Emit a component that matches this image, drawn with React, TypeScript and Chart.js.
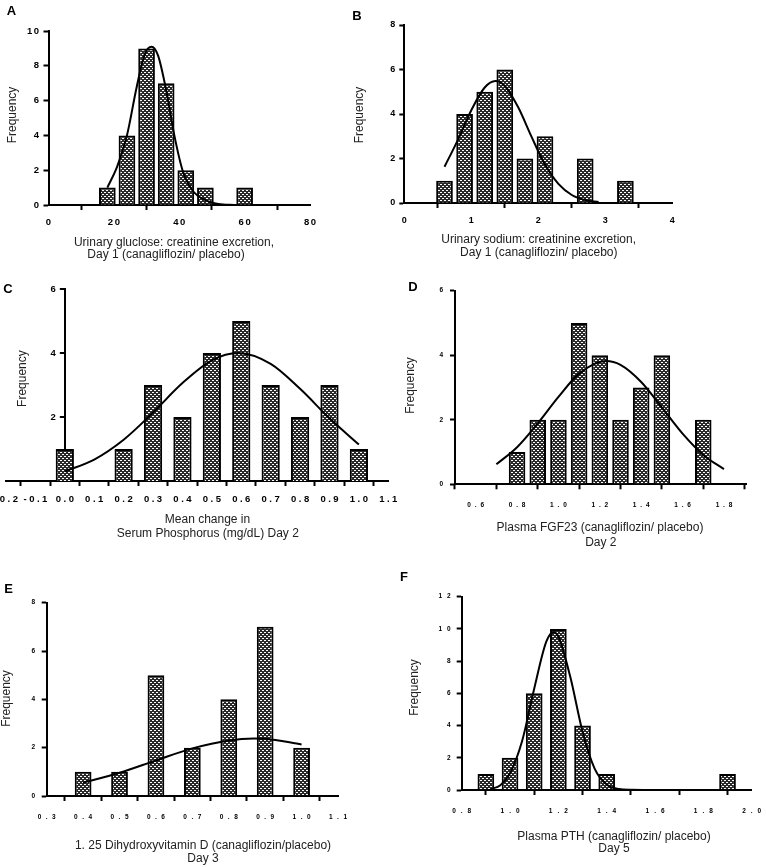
import React, { useEffect, useRef } from "react";
import { Chart, registerables } from "chart.js";
Chart.register(...registerables);

// ---------- Panel A ----------
const aBins = [18, 24, 30, 36, 42, 48, 60];
const aCounts = [1, 4, 9, 7, 2, 1, 1];
const aCurveX = [18, 21, 24, 27, 29.5, 31.5, 33.5, 36, 38.5, 41, 44, 48, 52, 57];
const aCurveY = [1.0, 2.2, 4.0, 6.8, 8.7, 9.1, 8.6, 6.6, 4.0, 2.0, 0.85, 0.28, 0.06, 0];
const aXTicks = [0, 20, 40, 60, 80];
const aXLabels = ["0", "20", "40", "60", "80"];
const aYTicks = [0, 2, 4, 6, 8, 10];
const aYLabels = ["0", "2", "4", "6", "8", "10"];

// ---------- Panel B ----------
const bBins = [0.6, 0.9, 1.2, 1.5, 1.8, 2.1, 2.7, 3.3];
const bCounts = [1, 4, 5, 6, 2, 3, 2, 1];
const bCurveX = [0.6, 0.8, 1.0, 1.2, 1.36, 1.5, 1.7, 1.9, 2.1, 2.3, 2.5, 2.7, 2.9];
const bCurveY = [1.63, 2.84, 4.17, 5.19, 5.48, 5.26, 4.3, 2.97, 1.73, 0.86, 0.36, 0.13, 0.04];
const bXTicks = [0, 1, 2, 3, 4];
const bXLabels = ["0", "1", "2", "3", "4"];
const bYTicks = [0, 2, 4, 6, 8];
const bYLabels = ["0", "2", "4", "6", "8"];

// ---------- Panel C ----------
const cBins = [0, 0.2, 0.3, 0.4, 0.5, 0.6, 0.7, 0.8, 0.9, 1.0];
const cCounts = [1, 1, 3, 2, 4, 5, 3, 2, 3, 1];
const cCurveX = [0, 0.1, 0.2, 0.3, 0.4, 0.5, 0.59, 0.7, 0.8, 0.9, 1.0];
const cCurveY = [0.3, 0.67, 1.29, 2.14, 3.06, 3.77, 4.0, 3.66, 2.88, 1.96, 1.14];
const cXTicks = [-0.2, -0.1, 0, 0.1, 0.2, 0.3, 0.4, 0.5, 0.6, 0.7, 0.8, 0.9, 1.0, 1.1];
const cXLabels = ["-0.2", "-0.1", "0.0", "0.1", "0.2", "0.3", "0.4", "0.5", "0.6", "0.7", "0.8", "0.9", "1.0", "1.1"];
const cYTicks = [2, 4, 6];
const cYLabels = ["2", "4", "6"];

// ---------- Panel D ----------
const dBins = [0.8, 0.9, 1.0, 1.1, 1.2, 1.3, 1.4, 1.5, 1.7];
const dCounts = [1, 2, 2, 5, 4, 2, 3, 4, 2];
const dCurveX = [0.7, 0.8, 0.9, 1.0, 1.1, 1.23, 1.3, 1.4, 1.5, 1.6, 1.7, 1.8];
const dCurveY = [0.62, 1.15, 1.89, 2.71, 3.43, 3.82, 3.7, 3.17, 2.38, 1.57, 0.91, 0.47];
const dXTicks = [0.6, 0.8, 1.0, 1.2, 1.4, 1.6, 1.8];
const dXLabels = ["0.6", "0.8", "1.0", "1.2", "1.4", "1.6", "1.8"];
const dYTicks = [0, 2, 4, 6];
const dYLabels = ["0", "2", "4", "6"];

// ---------- Panel E ----------
const eBins = [0.4, 0.5, 0.6, 0.7, 0.8, 0.9, 1.0];
const eCounts = [1, 1, 5, 2, 4, 7, 2];
const eCurveX = [0.4, 0.5, 0.6, 0.7, 0.8, 0.87, 0.9, 1.0];
const eCurveY = [0.55, 0.96, 1.47, 1.97, 2.3, 2.38, 2.37, 2.13];
const eXTicks = [0.3, 0.4, 0.5, 0.6, 0.7, 0.8, 0.9, 1.0, 1.1];
const eXLabels = ["0.3", "0.4", "0.5", "0.6", "0.7", "0.8", "0.9", "1.0", "1.1"];
const eYTicks = [0, 2, 4, 6, 8];
const eYLabels = ["0", "2", "4", "6", "8"];

// ---------- Panel F ----------
const fBins = [0.9, 1.0, 1.1, 1.2, 1.3, 1.4, 1.9];
const fCounts = [1, 2, 6, 10, 4, 1, 1];
const fCurveX = [0.92, 0.96, 1.0, 1.05, 1.1, 1.15, 1.18, 1.2, 1.25, 1.3, 1.35, 1.4, 1.45, 1.5, 1.6];
const fCurveY = [0.05, 0.3, 1.04, 3.04, 6.29, 9.21, 9.8, 9.53, 6.98, 3.62, 1.33, 0.34, 0.06, 0.01, 0];
const fXTicks = [0.8, 1.0, 1.2, 1.4, 1.6, 1.8, 2.0];
const fXLabels = ["0.8", "1.0", "1.2", "1.4", "1.6", "1.8", "2.0"];
const fYTicks = [0, 2, 4, 6, 8, 10, 12];
const fYLabels = ["0", "2", "4", "6", "8", "10", "12"];

const FONT = '"Liberation Sans", Arial, sans-serif';

type TextItem = { s: string; x: number; y: number; size: number; bold?: boolean; rot?: boolean };

interface PanelDef {
  rect: [number, number, number, number];
  area: { l: number; r: number; t: number; b: number };
  xMin: number;
  xMax: number;
  yMax: number;
  xTicks: number[];
  xLabels: string[];
  yTicks: number[];
  yLabels: string[];
  bins: number[];
  counts: number[];
  curveX: number[];
  curveY: number[];
  barFrac: number;
  tickSize: number;
  spacing: number;
  xPad: number;
  yPad: number;
  yAt?: number;
  texts: TextItem[];
}

const panels: PanelDef[] = [
  {
    rect: [0, 0, 360, 268],
    area: { l: 48.5, r: 310, t: 31, b: 205 },
    xMin: 0, xMax: 80, yMax: 10,
    xTicks: aXTicks, xLabels: aXLabels, yTicks: aYTicks, yLabels: aYLabels,
    bins: aBins, counts: aCounts, curveX: aCurveX, curveY: aCurveY,
    barFrac: 0.85, tickSize: 9.5, spacing: 1.5, xPad: 7, yPad: 3,
    texts: [
      { s: "A", x: 11.5, y: 11, size: 13, bold: true },
      { s: "Frequency", x: 13, y: 115, size: 12, rot: true },
      { s: "Urinary gluclose: creatinine excretion,", x: 174, y: 243, size: 12 },
      { s: "Day 1 (canagliflozin/ placebo)", x: 166, y: 255, size: 12 },
    ],
  },
  {
    rect: [340, 0, 426, 268],
    area: { l: 404.3, r: 672.3, t: 25, b: 203 },
    xMin: 0, xMax: 4, yMax: 8,
    xTicks: bXTicks, xLabels: bXLabels, yTicks: bYTicks, yLabels: bYLabels,
    bins: bBins, counts: bCounts, curveX: bCurveX, curveY: bCurveY,
    barFrac: 0.83, tickSize: 9, spacing: 1, xPad: 7, yPad: 3,
    texts: [
      { s: "B", x: 357, y: 16, size: 13, bold: true },
      { s: "Frequency", x: 360, y: 115, size: 12, rot: true },
      { s: "Urinary sodium: creatinine excretion,", x: 538.6, y: 240, size: 12 },
      { s: "Day 1 (canagliflozin/ placebo)", x: 538.8, y: 252.5, size: 12 },
    ],
  },
  {
    rect: [0, 268, 400, 292],
    area: { l: 6, r: 388.3, t: 289, b: 481 },
    xMin: -0.2, xMax: 1.1, yMax: 6, yAt: 0,
    xTicks: cXTicks, xLabels: cXLabels, yTicks: cYTicks, yLabels: cYLabels,
    bins: cBins, counts: cCounts, curveX: cCurveX, curveY: cCurveY,
    barFrac: 0.62, tickSize: 9.5, spacing: 2.5, xPad: 8, yPad: 4,
    texts: [
      { s: "C", x: 8, y: 289, size: 13, bold: true },
      { s: "Frequency", x: 23, y: 378.6, size: 12, rot: true },
      { s: "Mean change in", x: 207.5, y: 520, size: 12 },
      { s: "Serum Phosphorus (mg/dL) Day 2", x: 207.8, y: 534, size: 12 },
    ],
  },
  {
    rect: [395, 268, 371, 292],
    area: { l: 455, r: 746.7, t: 290.7, b: 484.3 },
    xMin: 0.5, xMax: 1.91, yMax: 6,
    xTicks: dXTicks, xLabels: dXLabels, yTicks: dYTicks, yLabels: dYLabels,
    bins: dBins, counts: dCounts, curveX: dCurveX, curveY: dCurveY,
    barFrac: 0.8, tickSize: 6.5, spacing: 3.8, xPad: 12, yPad: 3,
    texts: [
      { s: "D", x: 413, y: 287.5, size: 13, bold: true },
      { s: "Frequency", x: 411, y: 385.5, size: 12, rot: true },
      { s: "Plasma FGF23 (canagliflozin/ placebo)", x: 600, y: 527.5, size: 12 },
      { s: "Day 2", x: 600.8, y: 543, size: 12 },
    ],
  },
  {
    rect: [0, 560, 380, 307],
    area: { l: 46.7, r: 338, t: 602.7, b: 796 },
    xMin: 0.3, xMax: 1.1, yMax: 8,
    xTicks: eXTicks, xLabels: eXLabels, yTicks: eYTicks, yLabels: eYLabels,
    bins: eBins, counts: eCounts, curveX: eCurveX, curveY: eCurveY,
    barFrac: 0.46, tickSize: 6.5, spacing: 4.5, xPad: 12, yPad: 2,
    texts: [
      { s: "E", x: 8.5, y: 589, size: 13, bold: true },
      { s: "Frequency", x: 7, y: 698.5, size: 12, rot: true },
      { s: "1. 25 Dihydroxyvitamin D (canagliflozin/placebo)", x: 203, y: 846, size: 12 },
      { s: "Day 3", x: 203, y: 858.5, size: 12 },
    ],
  },
  {
    rect: [380, 560, 386, 307],
    area: { l: 461.7, r: 751.7, t: 596.7, b: 790 },
    xMin: 0.8, xMax: 2.0, yMax: 12,
    xTicks: fXTicks, xLabels: fXLabels, yTicks: fYTicks, yLabels: fYLabels,
    bins: fBins, counts: fCounts, curveX: fCurveX, curveY: fCurveY,
    barFrac: 0.69, tickSize: 6.5, spacing: 5, xPad: 12, yPad: 1,
    texts: [
      { s: "F", x: 404, y: 577.5, size: 13, bold: true },
      { s: "Frequency", x: 415, y: 687.5, size: 12, rot: true },
      { s: "Plasma PTH (canagliflozin/ placebo)", x: 614, y: 836.5, size: 12 },
      { s: "Day 5", x: 614, y: 848.5, size: 12 },
    ],
  },
];

function makePattern(ctx: CanvasRenderingContext2D): CanvasPattern | string {
  const c = document.createElement("canvas");
  c.width = 4;
  c.height = 4;
  const g = c.getContext("2d");
  if (!g) return "#555";
  g.fillStyle = "#2a2a2a";
  g.fillRect(0, 0, 4, 4);
  g.fillStyle = "#fff";
  g.fillRect(0, 0, 2, 1);
  g.fillRect(2, 2, 2, 1);
  return ctx.createPattern(c, "repeat") || "#555";
}

function PanelChart({ p }: { p: PanelDef }) {
  const ref = useRef<HTMLCanvasElement | null>(null);
  const [rx, ry, rw, rh] = p.rect;
  useEffect(() => {
    const canvas = ref.current;
    if (!canvas) return;
    const ctx = canvas.getContext("2d")!;
    const pattern = makePattern(ctx);
    const font = { family: FONT, size: p.tickSize, weight: "bold" as const };
    const hasYAt = p.yAt !== undefined;
    const textPlugin = {
      id: "panelText",
      beforeDraw(chart: any) {
        (chart.ctx as any).letterSpacing = p.spacing + "px";
      },
      afterDraw(chart: any) {
        const c = chart.ctx as CanvasRenderingContext2D;
        c.save();
        if (hasYAt) {
          // y-axis ticks and labels for an axis placed at x = yAt
          const xs = chart.scales.x;
          const ys = chart.scales.y;
          const px = xs.getPixelForValue(p.yAt);
          c.strokeStyle = "#000";
          c.lineWidth = 2;
          c.fillStyle = "#000";
          c.font = `bold ${p.tickSize}px ${FONT}`;
          c.textAlign = "right";
          c.textBaseline = "middle";
          p.yTicks.forEach((v, i) => {
            const py = ys.getPixelForValue(v);
            c.beginPath();
            c.moveTo(px - 5, py);
            c.lineTo(px, py);
            c.stroke();
            c.fillText(p.yLabels[i], px - 5 - p.yPad + p.spacing, py);
          });
        }
        (c as any).letterSpacing = "0px";
        c.textAlign = "center";
        c.textBaseline = "middle";
        for (const t of p.texts) {
          c.font = `${t.bold ? "bold " : ""}${t.size}px ${FONT}`;
          c.fillStyle = t.bold ? "#000" : "#222";
          c.save();
          c.translate(t.x - rx, t.y - ry);
          if (t.rot) c.rotate(-Math.PI / 2);
          c.fillText(t.s, 0, 0);
          c.restore();
        }
        c.restore();
      },
    };
    const chart = new Chart(canvas, {
      type: "bar",
      data: {
        datasets: [
          {
            type: "line",
            data: p.curveX.map((x, i) => ({ x, y: p.curveY[i] })),
            borderColor: "#000",
            borderWidth: 2,
            pointRadius: 0,
            tension: 0.4,
            cubicInterpolationMode: "monotone",
            fill: false,
            order: 1,
          } as any,
          {
            type: "bar",
            data: p.bins.map((x, i) => ({ x, y: p.counts[i] })),
            backgroundColor: pattern as any,
            borderColor: "#000",
            borderWidth: 2,
            categoryPercentage: 1,
            barPercentage: p.barFrac,
            order: 2,
          } as any,
        ],
      },
      options: {
        responsive: false,
        animation: false,
        events: [],
        layout: {
          padding: {
            left: hasYAt ? p.area.l - rx : 0,
            top: p.area.t - ry,
            right: rx + rw - p.area.r,
            bottom: 0,
          },
        },
        plugins: { legend: { display: false }, tooltip: { enabled: false } },
        scales: {
          x: {
            type: "linear",
            min: p.xMin,
            max: p.xMax,
            offset: false,
            afterBuildTicks: (s: any) => {
              s.ticks = p.xTicks.map((v) => ({ value: v }));
            },
            afterFit: (s: any) => {
              s.height = ry + rh - p.area.b;
              s.paddingLeft = 0;
              s.paddingRight = 0;
            },
            ticks: {
              autoSkip: false,
              maxRotation: 0,
              minRotation: 0,
              font,
              color: "#000",
              padding: p.xPad,
              labelOffset: p.spacing / 2,
              callback: (_v: any, i: number) => p.xLabels[i],
            },
            grid: {
              drawOnChartArea: false,
              drawTicks: true,
              tickLength: 5,
              tickWidth: 2,
              tickColor: "#000",
            },
            border: { color: "#000", width: 2 },
          },
          y: {
            type: "linear",
            axis: "y",
            min: 0,
            max: p.yMax,
            position: hasYAt ? ({ x: p.yAt } as any) : "left",
            afterBuildTicks: (s: any) => {
              s.ticks = p.yTicks.map((v) => ({ value: v }));
            },
            afterFit: (s: any) => {
              if (!hasYAt) s.width = p.area.l - rx;
              s.paddingTop = 0;
              s.paddingBottom = 0;
            },
            ticks: {
              display: !hasYAt,
              autoSkip: false,
              font,
              color: "#000",
              padding: p.yPad,
              callback: (_v: any, i: number) => p.yLabels[i],
            },
            grid: {
              drawOnChartArea: false,
              drawTicks: !hasYAt,
              tickLength: 5,
              tickWidth: 2,
              tickColor: "#000",
            },
            border: { color: "#000", width: 2 },
          },
        },
      } as any,
      plugins: [textPlugin as any],
    });
    return () => chart.destroy();
  }, [p]);
  return (
    <canvas
      ref={ref}
      width={rw}
      height={rh}
      style={{ position: "absolute", left: rx, top: ry, width: rw, height: rh }}
    />
  );
}

export default function App() {
  return (
    <div style={{ position: "absolute", left: 0, top: 0, width: 766, height: 867, background: "#fff" }}>
      {panels.map((p, i) => (
        <PanelChart key={i} p={p} />
      ))}
    </div>
  );
}
